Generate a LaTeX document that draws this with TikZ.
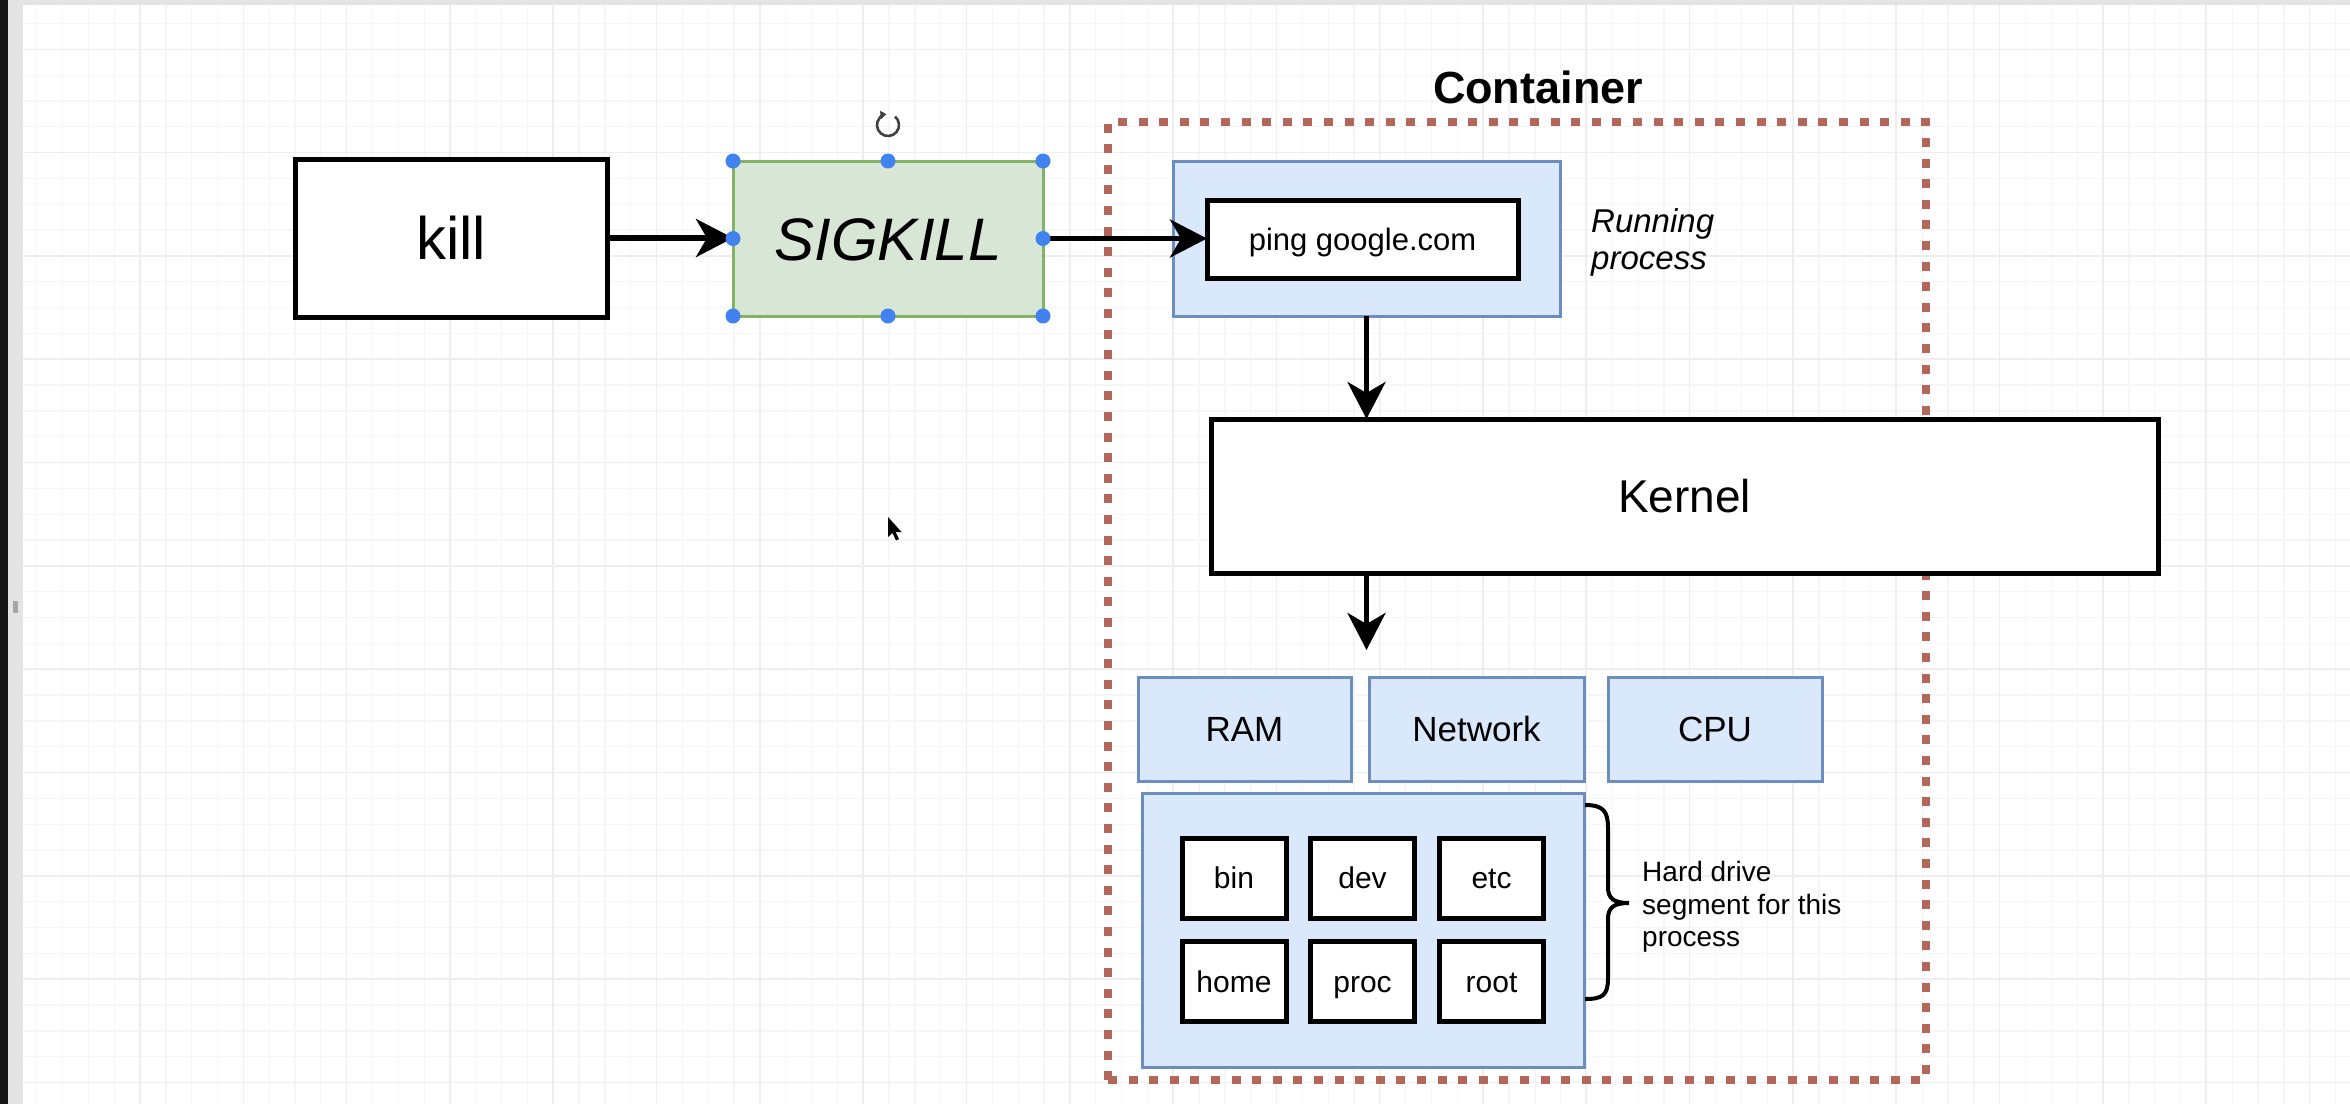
\documentclass[tikz,border=0pt]{standalone}
\usepackage{fontspec}
\setmainfont{Liberation Sans}
\usetikzlibrary{arrows.meta}
\definecolor{gridminor}{HTML}{F6F6F6}
\definecolor{gridmajor}{HTML}{EEEEEE}
\definecolor{bluefill}{HTML}{DAE8FC}
\definecolor{blueline}{HTML}{6C8EBF}
\definecolor{greenfill}{HTML}{D8E6D5}
\definecolor{greenline}{HTML}{82B366}
\definecolor{contline}{HTML}{B3675A}
\definecolor{handleblue}{HTML}{3F82F0}
\definecolor{darkbar}{HTML}{161616}
\definecolor{lightbar}{HTML}{E4E4E4}
\begin{document}
\begin{tikzpicture}[x=1pt,y=-1pt,
  blk/.style={draw=black, line width=5pt, fill=white, inner sep=0pt, outer sep=0pt, text depth=0pt},
  bluebox/.style={draw=blueline, fill=bluefill, line width=3pt, inner sep=0pt, outer sep=0pt, text depth=0pt},
  greenbox/.style={draw=greenline, fill=greenfill, line width=3pt, inner sep=0pt, outer sep=0pt, text depth=0pt},
  contbox/.style={draw=contline, line width=8pt, dash pattern=on 9pt off 11.6pt, inner sep=0pt, outer sep=0pt},
  harr/.style={line width=5.5pt, -{Stealth[length=37pt, width=38pt, inset=11pt]}},
  varr/.style={line width=5pt, -{Stealth[length=37pt, width=38pt, inset=11pt]}},
  dirbox/.style={blk, minimum width=104pt, minimum height=80pt, text height=21.6pt, font=\fontsize{30}{36}\selectfont},
  resbox/.style={bluebox, minimum height=104pt, text height=25.2pt, font=\fontsize{35}{42}\selectfont},
]
\useasboundingbox (0,0) rectangle (2350,1104);
\fill[white] (0,0) rectangle (2350,1104);
% grid
\foreach \i in {0,...,89} {\draw[gridminor, line width=1.3pt] ({36.7+25.83*\i},5) -- ({36.7+25.83*\i},1104);}
\foreach \j in {0,...,41} {\draw[gridminor, line width=1.3pt] (23,{23.5+25.83*\j}) -- (2350,{23.5+25.83*\j});}
\foreach \i in {0,...,21} {\draw[gridmajor, line width=1.6pt] ({140+103.3*\i},5) -- ({140+103.3*\i},1104);}
\foreach \j in {0,...,10} {\draw[gridmajor, line width=1.6pt] (23,{49.3+103.3*\j}) -- (2350,{49.3+103.3*\j});}
% window edges
\fill[lightbar] (0,0) rectangle (2350,5);
\fill[lightbar] (8,0) rectangle (23,1104);
\fill[darkbar] (0,0) rectangle (8,1104);
\fill[gray!70] (13,601) rectangle (18,613);

% container
\node[contbox, minimum width=818pt, minimum height=958pt] (cont) at (1517,601) {};
\node[font=\bfseries\fontsize{45}{54}\selectfont] (contlabel) at (1538,87) {Container};

% top row
\node[blk, minimum width=312pt, minimum height=158pt, text height=43pt, font=\fontsize{60}{72}\selectfont] (kill) at (451,238) {kill};
\node[greenbox, minimum width=310pt, minimum height=155pt, text height=43pt, font=\itshape\fontsize{60}{72}\selectfont] (sig) at (888,238.5) {SIGKILL};
\node[bluebox, minimum width=387pt, minimum height=155pt] (run) at (1366.5,238.5) {};
\node[blk, minimum width=311pt, minimum height=78pt, text height=22.3pt, font=\fontsize{31}{37}\selectfont] (ping) at (1362.5,239) {ping google.com};
\node[anchor=west, align=left, inner sep=0pt, font=\itshape\fontsize{33}{37}\selectfont] (runlabel) at (1591,242) {Running\\process};

% kernel
\node[blk, minimum width=947pt, minimum height=154pt, text height=33pt, font=\fontsize{46}{55}\selectfont] (kernel) at (1684.5,496) {Kernel};

% resources
\node[resbox, minimum width=213pt] (ram) at (1244.5,729) {RAM};
\node[resbox, minimum width=215pt] (net) at (1476.5,729) {Network};
\node[resbox, minimum width=214pt] (cpu) at (1715,729) {CPU};

% hard drive
\node[bluebox, minimum width=442pt, minimum height=274pt] (hdd) at (1363,930) {};
\node[dirbox] (bin) at (1234,878) {bin};
\node[dirbox] (dev) at (1362.5,878) {dev};
\node[dirbox] (etc) at (1491.5,878) {etc};
\node[dirbox] (home) at (1234,981.5) {home};
\node[dirbox] (proc) at (1362.5,981.5) {proc};
\node[dirbox] (root) at (1491.5,981.5) {root};

% brace
\draw[line width=4pt] (1585,805) .. controls (1603,805) and (1608,811) .. (1608,828) -- (1608,887)
  .. controls (1608,898) and (1613,903) .. (1629,903)
  .. controls (1613,903) and (1608,908) .. (1608,919) -- (1608,978)
  .. controls (1608,995) and (1603,999) .. (1585,999);
\node[anchor=west, align=left, inner sep=0pt, font=\fontsize{28}{32.5}\selectfont] (hddlabel) at (1642,907) {Hard drive\\segment for this\\process};

% connectors
\draw[harr] (kill.east) -- (kill.east -| sig.west);
\draw[harr] (sig.east) -- (sig.east -| ping.west);
\draw[varr] (run.south) -- (run.south |- kernel.north);
\coordinate (resin) at (1366.5,650);
\draw[varr] (kernel.south -| run.south) -- (resin);

% selection handles
\foreach \p in {north west, north, north east, east, south east, south, south west, west}
  {\fill[handleblue] (sig.\p) circle (7.5pt);}
\coordinate (rot) at (888,125);
\draw[line width=2.6pt, draw=black!75, -{Triangle[length=6pt, width=8pt]}] (rot) ++(-50:11) arc[start angle=-50, end angle=262, radius=11];

% mouse cursor
\coordinate (cur) at (888,517);
\fill[black] (cur) -- ++(0,20) -- ++(4.5,-4) -- ++(3.5,7.5) -- ++(3,-1.5) -- ++(-3.5,-7) -- ++(6,0) -- cycle;
\end{tikzpicture}
\end{document}
